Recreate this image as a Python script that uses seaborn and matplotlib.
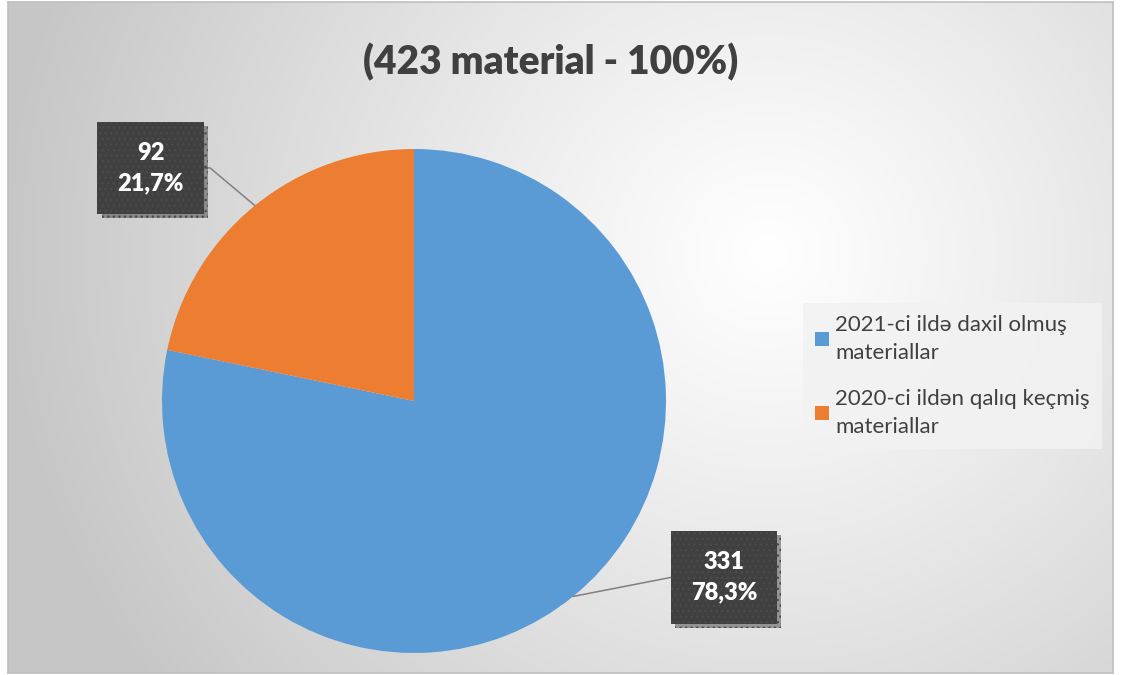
import numpy as np
import matplotlib
matplotlib.use('Agg')
import matplotlib.pyplot as plt
import matplotlib.patheffects as pe
from matplotlib.patches import Patch
import seaborn as sns

# data
categories = ['2021-ci ildə daxil olmuş\nmateriallar', '2020-ci ildən qalıq keçmiş\nmateriallar']
counts = [331, 92]
pct_labels = ['78,3%', '21,7%']
colors = ['#5B9BD5', '#ED7D31']
title = '(423 material - 100%)'

sns.set_theme(style='white')
plt.rcParams['font.family'] = ['Lato', 'DejaVu Sans']

W, H = 1125, 675
fig = plt.figure(figsize=(W / 100, H / 100), dpi=100)
fig.patch.set_facecolor('white')

# radial gradient background
bg = fig.add_axes([8 / W, 2 / H, 1105 / W, 671 / H])
yy, xx = np.mgrid[0:671, 0:1105]
d = np.sqrt((xx - 760.0) ** 2 + ((yy - 250.0) / 0.95) ** 2)
d = np.clip(d / 760, 0, 1)
shade = 1.0 - 0.22 * d ** 1.1
bg.imshow(np.dstack([shade] * 3), aspect='auto', extent=(0, 1, 0, 1), origin='upper',
          interpolation='bilinear')
bg.set_xticks([])
bg.set_yticks([])
for s in bg.spines.values():
    s.set_color('#bfbfbf')
    s.set_linewidth(1.2)

# pie
r = 252
cx, cy = 414, 401
ax = fig.add_axes([(cx - r) / W, (H - cy - r) / H, 2 * r / W, 2 * r / H])
wedges, _ = ax.pie(counts, colors=colors, startangle=90, counterclock=False,
                   wedgeprops=dict(linewidth=0))
ax.set_xlim(-1, 1)
ax.set_ylim(-1, 1)
ax.set_aspect('equal')

# data labels
text_pos = [(1.23, -0.70), (-1.045, 0.925)]
angle_b = [11, -40]
for w, c, p, tp, ab in zip(wedges, counts, pct_labels, text_pos, angle_b):
    mid = np.deg2rad((w.theta1 + w.theta2) / 2)
    xy = (np.cos(mid), np.sin(mid))
    ann = ax.annotate(f'{c}\n{p}', xy=xy, xytext=tp, ha='center', va='center',
                      fontsize=17, fontweight='heavy', color='white', linespacing=1.45,
                      annotation_clip=False,
                      bbox=dict(boxstyle='square,pad=0.85', fc='#404040', ec='#4b4b4b',
                                lw=0, hatch='...'),
                      arrowprops=dict(arrowstyle='-', color='#808080', lw=1.1,
                                      shrinkA=0, shrinkB=0,
                                      connectionstyle=f'angle,angleA=0,angleB={ab},rad=0'))
    ann.get_bbox_patch().set_path_effects([
        pe.SimplePatchShadow(offset=(3, -3), shadow_rgbFace='#000000', alpha=0.35),
        pe.Normal()])

# title
fig.text(551 / W, 1 - 62 / H, title, ha='center', va='center', fontsize=28,
         fontweight='heavy', color='#404040')

# legend
handles = [Patch(facecolor=col, edgecolor='none') for col in colors]
leg = fig.legend(handles, categories, loc='upper left',
                 bbox_to_anchor=(803 / W, 1 - 303 / H), frameon=True, borderaxespad=0,
                 fontsize=16, handlelength=0.6, handleheight=0.6, handletextpad=0.3,
                 labelspacing=1.15, borderpad=0.55, labelcolor='#404040', fancybox=False)
for t in leg.get_texts():
    t.set_linespacing(1.5)
leg.get_frame().set_facecolor('#f2f2f2')
leg.get_frame().set_edgecolor('none')
leg.get_frame().set_alpha(0.85)

fig.savefig('out.png', dpi=100)
